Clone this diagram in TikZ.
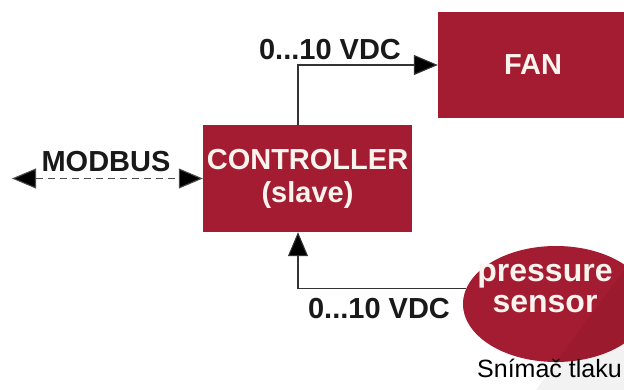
\documentclass[tikz,border=0pt]{standalone}
\usepackage{fontspec}
\setmainfont{Liberation Sans}
\usetikzlibrary{arrows.meta,shapes.geometric}
\definecolor{blockred}{HTML}{A41C31}
\definecolor{blocktext}{HTML}{FBF3EE}
\definecolor{wire}{HTML}{333333}
\tikzset{
  block/.style={fill=blockred, draw=none, text=blocktext,
    font=\bfseries\fontsize{29}{33}\selectfont, align=center, inner sep=0pt},
  sig/.style={font=\bfseries\fontsize{29}{33}\selectfont, text=black!90, inner sep=0pt},
  bigtip/.tip={Triangle[length=24pt,width=20pt,fill=black]},
  wireline/.style={draw=wire, line width=1.1pt, -bigtip},
}
\begin{document}
\begin{tikzpicture}[x=1pt,y=-1pt]
  \useasboundingbox (0,0) rectangle (624,390);
  \clip (0,0) rectangle (624,390);

  % blocks
  \node[block, minimum width=209pt, minimum height=107pt] (ctrl) at (307.5,178.5)
    {CONTROLLER\\(slave)};
  \node[block, minimum width=190pt, minimum height=106pt] (fan) at (533,65) {FAN};
  \node[ellipse, fill=blockred, minimum width=186pt, minimum height=116pt, inner sep=0pt]
    (sensor) at (556,304) {};
  \node[block, fill=none, font=\bfseries\fontsize{32}{31}\selectfont] (sensortxt)
    at (545,289) {pressure\\sensor};

  % faint shadow wedge in the lower right
  \fill[black, opacity=0.05] (536,390) -- (624,270) -- (624,390) -- cycle;

  % Modbus link
  \coordinate (busend) at (12,178.5);
  \draw[draw=black!70, line width=1.1pt, dash pattern=on 7pt off 5pt, bigtip-bigtip]
    (busend) -- (ctrl.west);
  \node[sig] (buslbl) at (106,162) {MODBUS};

  % analogue signals
  \draw[wireline] ([xshift=-9.5pt]ctrl.north) |- (fan.west);
  \node[sig] (outlbl) at (330,50) {0...10 VDC};
  \draw[wireline] (sensor.170) -| ([xshift=-9.5pt]ctrl.south);
  \node[sig] (inlbl) at (379,309) {0...10 VDC};

  % caption
  \node[anchor=base west, inner sep=0pt, font=\fontsize{25}{30}\selectfont]
    (caption) at (477,377) {Snímač tlaku};
\end{tikzpicture}
\end{document}
